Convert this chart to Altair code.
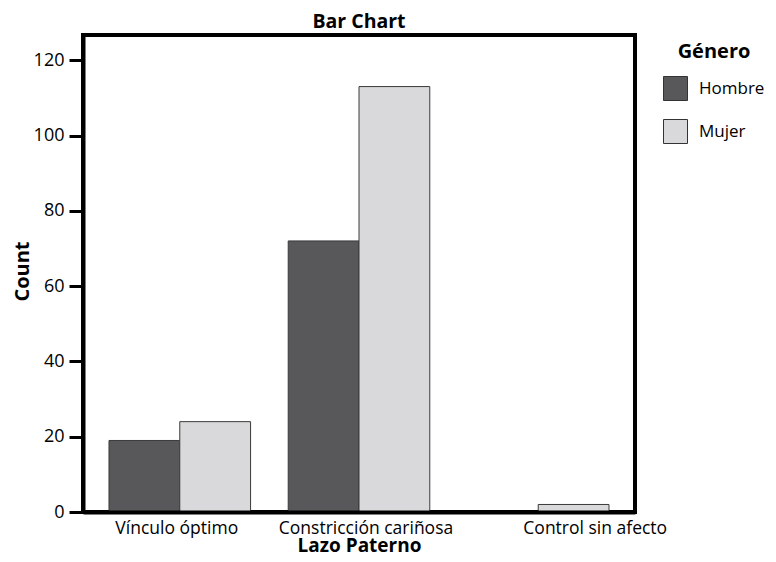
import altair as alt
import pandas as pd

categories = ["Vínculo óptimo", "Constricción cariñosa", "Control sin afecto"]
genders = ["Hombre", "Mujer"]
hombre_counts = [19, 72, 0]
mujer_counts = [24, 113, 2]
y_ticks = [0, 20, 40, 60, 80, 100, 120]
colors = ["#58585a", "#d9d9db"]

rows = []
for c, h, m in zip(categories, hombre_counts, mujer_counts):
    rows.append({"lazo": c, "genero": "Hombre", "count": h})
    rows.append({"lazo": c, "genero": "Mujer", "count": m})
df = pd.DataFrame(rows)

FONT = "Open Sans"

label_shift = {
    "condition": [
        {"test": "datum.value == 'Control sin afecto'", "value": 57},
        {"test": "datum.value == 'Constricción cariñosa'", "value": 7},
    ],
    "value": -3,
}

chart = alt.Chart(df).mark_bar(stroke="#3a3a3a", strokeWidth=1).encode(
    x=alt.X(
        "lazo:N", sort=categories,
        scale=alt.Scale(paddingInner=0.21, paddingOuter=0.145),
        axis=alt.Axis(
            title="Lazo Paterno", labelAngle=0, ticks=False, tickSize=0, labelPadding=7,
            labelOffset=label_shift,
            domainColor="black", domainWidth=4,
            labelFont=FONT, labelFontSize=17.5, labelColor="black", labelBaseline="top",
            titleFont=FONT, titleFontSize=19, titleFontWeight="bold", titleColor="black",
            titleY=39, titleBaseline="alphabetic", zindex=1,
        ),
    ),
    xOffset=alt.XOffset("genero:N", sort=genders, scale=alt.Scale(paddingInner=0, paddingOuter=0)),
    y=alt.Y(
        "count:Q",
        scale=alt.Scale(domain=[0, 126.7], nice=False, zero=True),
        axis=alt.Axis(
            values=y_ticks, title="Count", grid=False,
            tickSize=14, tickWidth=3, tickColor="black", labelPadding=5,
            domainColor="black", domainWidth=4,
            labelFont=FONT, labelFontSize=18, labelColor="black",
            titleFont=FONT, titleFontSize=20, titleFontWeight="bold", titleColor="black",
            titleX=-55, titleY=236, titleBaseline="alphabetic", zindex=1,
        ),
    ),
    color=alt.Color(
        "genero:N", sort=genders,
        scale=alt.Scale(domain=genders, range=colors),
        legend=alt.Legend(
            title="Género", orient="none", legendX=580, legendY=7, direction="vertical",
            titleFont=FONT, titleFontSize=20, titleFontWeight="bold", titleColor="black",
            titleAnchor="middle", titlePadding=14,
            labelFont=FONT, labelFontSize=17, labelColor="black", labelOffset=11,
            symbolType="square", symbolSize=576, symbolStrokeColor="#333333",
            symbolStrokeWidth=1, symbolOpacity=1, rowPadding=14, padding=0,
        ),
    ),
).properties(
    width=552, height=477,
    title=alt.TitleParams("Bar Chart", font=FONT, fontSize=19.5, fontWeight="bold", color="black",
                          anchor="middle", frame="group", offset=3),
    padding={"left": 75, "top": 27, "right": 133, "bottom": 42},
    autosize=alt.AutoSizeParams(type="none"),
    background="white",
).configure_view(stroke="black", strokeWidth=4)

chart.save("out.html", embed_options={"renderer": "svg", "actions": False})
